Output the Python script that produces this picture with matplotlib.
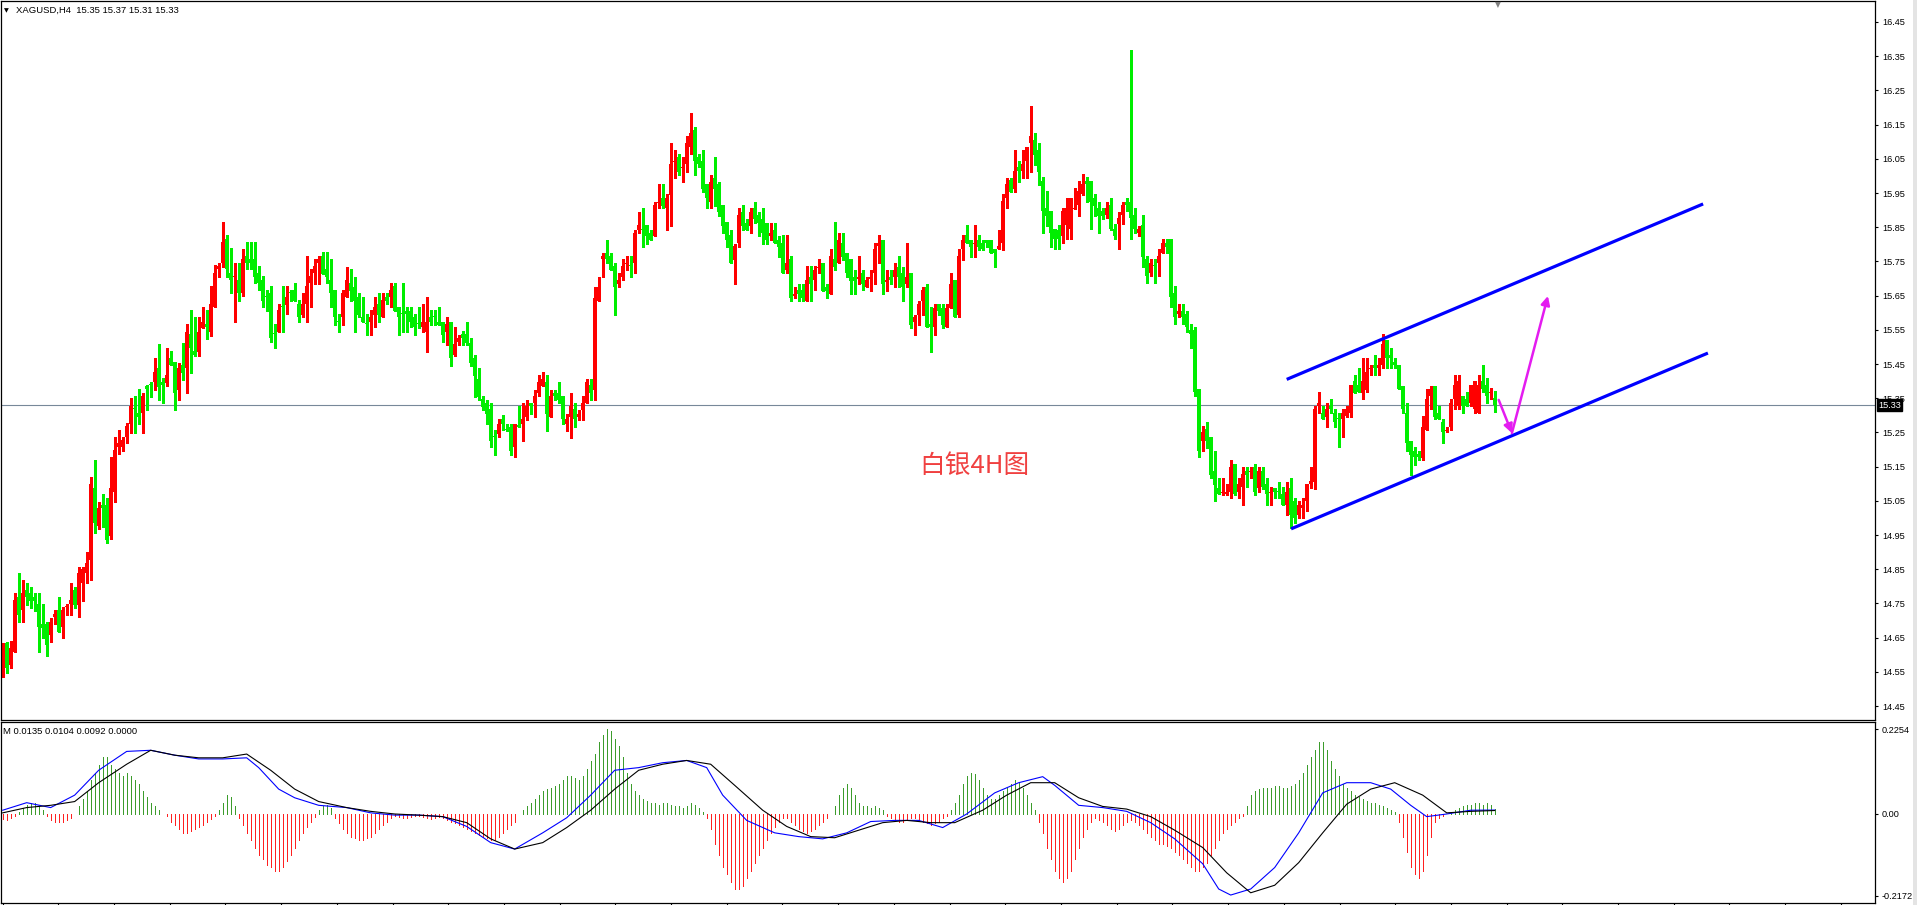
"""
XAGUSD H4 candlestick chart with a MACD sub-window (MT4 style).
"""

import numpy as np
import matplotlib
matplotlib.use("Agg")
import matplotlib.pyplot as plt
from matplotlib.patches import Rectangle
import matplotlib.transforms as mtransforms

# ---- candle data (one value per H4 bar, oldest first) ----
opens = [
    14.575, 14.633, 14.570, 14.609, 14.770, 14.731, 14.789, 14.779, 14.768, 14.748,
    14.690, 14.690, 14.658, 14.709, 14.731, 14.680, 14.740, 14.748, 14.789, 14.745,
    14.809, 14.838, 14.877, 15.086, 14.976, 15.038, 15.038, 14.947, 15.077, 15.206,
    15.206, 15.236, 15.276, 15.320, 15.306, 15.306, 15.386, 15.390, 15.398, 15.437,
    15.398, 15.395, 15.467, 15.457, 15.374, 15.447, 15.437, 15.538, 15.489, 15.486,
    15.554, 15.567, 15.545, 15.616, 15.727, 15.744, 15.815, 15.717, 15.705, 15.696,
    15.657, 15.766, 15.756, 15.756, 15.715, 15.696, 15.650, 15.657, 15.540, 15.545,
    15.620, 15.622, 15.659, 15.666, 15.625, 15.593, 15.625, 15.686, 15.715, 15.744,
    15.766, 15.727, 15.696, 15.666, 15.576, 15.586, 15.645, 15.686, 15.676, 15.647,
    15.588, 15.569, 15.574, 15.593, 15.625, 15.586, 15.647, 15.645, 15.678, 15.616,
    15.598, 15.606, 15.606, 15.586, 15.569, 15.557, 15.545, 15.586, 15.588, 15.574,
    15.574, 15.545, 15.574, 15.476, 15.515, 15.538, 15.538, 15.510, 15.467, 15.405,
    15.347, 15.337, 15.317, 15.238, 15.245, 15.288, 15.259, 15.267, 15.206, 15.272,
    15.276, 15.296, 15.336, 15.336, 15.366, 15.385, 15.398, 15.296, 15.366, 15.366,
    15.356, 15.276, 15.296, 15.317, 15.296, 15.315, 15.336, 15.388, 15.374, 15.635,
    15.756, 15.775, 15.765, 15.736, 15.685, 15.705, 15.742, 15.740, 15.744, 15.843,
    15.845, 15.856, 15.834, 15.824, 15.920, 15.934, 15.905, 15.944, 16.040, 16.054,
    16.022, 16.034, 16.085, 16.134, 16.054, 16.044, 15.976, 15.924, 15.995, 15.976,
    15.914, 15.866, 15.827, 15.754, 15.804, 15.895, 15.863, 15.853, 15.905, 15.885,
    15.875, 15.863, 15.824, 15.843, 15.814, 15.804, 15.724, 15.756, 15.650, 15.666,
    15.666, 15.635, 15.705, 15.695, 15.730, 15.744, 15.676, 15.656, 15.756, 15.744,
    15.804, 15.775, 15.756, 15.705, 15.700, 15.715, 15.676, 15.700, 15.715, 15.795,
    15.814, 15.690, 15.705, 15.705, 15.734, 15.715, 15.685, 15.715, 15.573, 15.593,
    15.635, 15.676, 15.567, 15.557, 15.625, 15.615, 15.557, 15.615, 15.695, 15.593,
    15.785, 15.827, 15.814, 15.800, 15.814, 15.804, 15.814, 15.814, 15.785, 15.785,
    15.804, 15.934, 15.988, 15.963, 16.025, 16.015, 16.044, 16.095, 16.105, 16.075,
    15.986, 15.906, 15.896, 15.844, 15.842, 15.825, 15.857, 15.844, 15.904, 15.915,
    15.947, 15.986, 15.986, 15.935, 15.906, 15.896, 15.886, 15.915, 15.844, 15.860,
    15.886, 15.925, 15.925, 15.886, 15.834, 15.857, 15.756, 15.715, 15.740, 15.745,
    15.776, 15.805, 15.815, 15.657, 15.597, 15.606, 15.597, 15.548, 15.548, 15.376,
    15.226, 15.259, 15.236, 15.136, 15.087, 15.074, 15.070, 15.077, 15.158, 15.077,
    15.090, 15.136, 15.133, 15.148, 15.087, 15.136, 15.099, 15.074, 15.087, 15.080,
    15.070, 15.038, 15.087, 15.048, 15.009, 15.028, 15.048, 15.099, 15.106, 15.328,
    15.306, 15.296, 15.328, 15.306, 15.292, 15.289, 15.298, 15.306, 15.399, 15.389,
    15.365, 15.374, 15.435, 15.447, 15.438, 15.447, 15.519, 15.477, 15.457, 15.447,
    15.386, 15.306, 15.226, 15.197, 15.187, 15.175, 15.257, 15.355, 15.386, 15.306,
    15.279, 15.254, 15.267, 15.347, 15.328, 15.357, 15.347, 15.337, 15.318, 15.306,
    15.399, 15.389, 15.365, 15.35,
]

highs = [
    14.633, 14.638, 14.640, 14.779, 14.838, 14.818, 14.809, 14.797, 14.779, 14.779,
    14.748, 14.697, 14.706, 14.731, 14.770, 14.740, 14.748, 14.809, 14.799, 14.857,
    14.857, 14.901, 15.121, 15.169, 15.047, 15.070, 15.057, 15.179, 15.237, 15.257,
    15.237, 15.278, 15.350, 15.356, 15.376, 15.364, 15.389, 15.398, 15.467, 15.508,
    15.408, 15.496, 15.489, 15.457, 15.454, 15.510, 15.567, 15.608, 15.588, 15.586,
    15.618, 15.608, 15.678, 15.739, 15.744, 15.866, 15.827, 15.788, 15.744, 15.744,
    15.785, 15.808, 15.808, 15.808, 15.737, 15.707, 15.666, 15.678, 15.567, 15.625,
    15.678, 15.678, 15.666, 15.686, 15.637, 15.657, 15.766, 15.727, 15.756, 15.766,
    15.778, 15.778, 15.756, 15.666, 15.596, 15.666, 15.735, 15.727, 15.705, 15.657,
    15.645, 15.596, 15.608, 15.645, 15.657, 15.657, 15.657, 15.686, 15.686, 15.616,
    15.686, 15.616, 15.618, 15.596, 15.616, 15.625, 15.645, 15.608, 15.608, 15.616,
    15.574, 15.586, 15.574, 15.557, 15.535, 15.547, 15.574, 15.525, 15.476, 15.437,
    15.356, 15.345, 15.337, 15.257, 15.288, 15.301, 15.276, 15.276, 15.276, 15.327,
    15.336, 15.346, 15.336, 15.375, 15.417, 15.426, 15.417, 15.375, 15.375, 15.398,
    15.356, 15.305, 15.366, 15.336, 15.315, 15.356, 15.405, 15.405, 15.676, 15.705,
    15.775, 15.814, 15.775, 15.744, 15.715, 15.756, 15.765, 15.765, 15.843, 15.895,
    15.905, 15.856, 15.843, 15.924, 15.976, 15.976, 15.947, 16.095, 16.075, 16.064,
    16.054, 16.116, 16.183, 16.144, 16.064, 16.075, 15.976, 16.002, 16.054, 15.983,
    15.914, 15.866, 15.843, 15.802, 15.905, 15.914, 15.875, 15.905, 15.924, 15.895,
    15.905, 15.863, 15.863, 15.863, 15.824, 15.827, 15.827, 15.765, 15.676, 15.685,
    15.685, 15.736, 15.736, 15.736, 15.756, 15.744, 15.685, 15.785, 15.866, 15.834,
    15.834, 15.775, 15.756, 15.724, 15.765, 15.724, 15.705, 15.726, 15.804, 15.827,
    15.814, 15.726, 15.726, 15.744, 15.765, 15.734, 15.804, 15.715, 15.593, 15.635,
    15.676, 15.685, 15.617, 15.625, 15.625, 15.625, 15.625, 15.715, 15.695, 15.785,
    15.827, 15.856, 15.814, 15.856, 15.827, 15.814, 15.814, 15.814, 15.785, 15.843,
    15.947, 15.995, 15.995, 16.075, 16.044, 16.075, 16.085, 16.204, 16.124, 16.095,
    15.998, 15.957, 15.896, 15.844, 15.857, 15.906, 15.935, 15.935, 15.964, 15.986,
    16.006, 15.998, 15.986, 15.947, 15.925, 15.906, 15.925, 15.935, 15.860, 15.893,
    15.925, 15.935, 16.367, 15.906, 15.854, 15.886, 15.766, 15.756, 15.756, 15.786,
    15.815, 15.815, 15.815, 15.678, 15.626, 15.626, 15.606, 15.567, 15.558, 15.376,
    15.269, 15.279, 15.236, 15.197, 15.116, 15.116, 15.099, 15.170, 15.158, 15.116,
    15.148, 15.148, 15.148, 15.158, 15.148, 15.148, 15.116, 15.090, 15.087, 15.106,
    15.090, 15.106, 15.116, 15.058, 15.048, 15.058, 15.099, 15.148, 15.328, 15.367,
    15.328, 15.337, 15.347, 15.318, 15.308, 15.318, 15.328, 15.389, 15.418, 15.438,
    15.467, 15.467, 15.447, 15.477, 15.467, 15.538, 15.519, 15.496, 15.467, 15.447,
    15.386, 15.337, 15.226, 15.207, 15.197, 15.298, 15.376, 15.386, 15.386, 15.328,
    15.289, 15.267, 15.347, 15.418, 15.418, 15.357, 15.369, 15.389, 15.399, 15.418,
    15.447, 15.408, 15.379, 15.37,
]

lows = [
    14.536, 14.547, 14.560, 14.609, 14.697, 14.697, 14.745, 14.736, 14.729, 14.609,
    14.648, 14.596, 14.638, 14.690, 14.667, 14.648, 14.716, 14.716, 14.736, 14.709,
    14.758, 14.809, 14.818, 14.957, 14.967, 14.974, 14.928, 14.937, 15.047, 15.187,
    15.197, 15.218, 15.247, 15.247, 15.276, 15.247, 15.315, 15.354, 15.374, 15.345,
    15.337, 15.386, 15.447, 15.315, 15.345, 15.403, 15.366, 15.425, 15.473, 15.473,
    15.554, 15.522, 15.532, 15.616, 15.705, 15.735, 15.705, 15.657, 15.574, 15.635,
    15.650, 15.727, 15.727, 15.686, 15.666, 15.616, 15.606, 15.515, 15.496, 15.545,
    15.545, 15.596, 15.635, 15.635, 15.574, 15.586, 15.574, 15.616, 15.684, 15.684,
    15.713, 15.686, 15.616, 15.564, 15.545, 15.564, 15.645, 15.635, 15.545, 15.586,
    15.574, 15.535, 15.535, 15.557, 15.574, 15.586, 15.625, 15.616, 15.606, 15.535,
    15.545, 15.545, 15.559, 15.535, 15.554, 15.545, 15.486, 15.564, 15.564, 15.564,
    15.515, 15.506, 15.444, 15.473, 15.506, 15.506, 15.506, 15.444, 15.354, 15.345,
    15.315, 15.276, 15.208, 15.184, 15.236, 15.257, 15.255, 15.184, 15.177, 15.265,
    15.225, 15.286, 15.305, 15.296, 15.356, 15.385, 15.255, 15.296, 15.346, 15.336,
    15.276, 15.255, 15.235, 15.266, 15.286, 15.286, 15.336, 15.346, 15.346, 15.635,
    15.705, 15.744, 15.726, 15.593, 15.676, 15.695, 15.726, 15.705, 15.715, 15.834,
    15.793, 15.802, 15.814, 15.824, 15.905, 15.905, 15.843, 15.853, 15.995, 16.002,
    15.983, 16.012, 16.064, 16.002, 16.025, 15.953, 15.905, 15.905, 15.912, 15.882,
    15.834, 15.793, 15.744, 15.685, 15.793, 15.843, 15.843, 15.834, 15.863, 15.824,
    15.802, 15.802, 15.814, 15.804, 15.763, 15.715, 15.715, 15.635, 15.642, 15.635,
    15.635, 15.635, 15.635, 15.666, 15.715, 15.664, 15.644, 15.656, 15.726, 15.744,
    15.754, 15.705, 15.656, 15.656, 15.685, 15.666, 15.676, 15.664, 15.685, 15.744,
    15.656, 15.664, 15.685, 15.676, 15.676, 15.635, 15.676, 15.554, 15.534, 15.564,
    15.593, 15.557, 15.486, 15.534, 15.593, 15.554, 15.557, 15.615, 15.586, 15.586,
    15.754, 15.804, 15.763, 15.763, 15.783, 15.783, 15.793, 15.775, 15.734, 15.785,
    15.783, 15.905, 15.953, 15.953, 15.983, 15.995, 15.995, 16.012, 16.031, 15.973,
    15.834, 15.854, 15.793, 15.786, 15.786, 15.805, 15.815, 15.815, 15.904, 15.883,
    15.945, 15.925, 15.844, 15.883, 15.834, 15.873, 15.876, 15.842, 15.815, 15.786,
    15.860, 15.896, 15.815, 15.834, 15.825, 15.735, 15.686, 15.706, 15.686, 15.706,
    15.776, 15.776, 15.616, 15.567, 15.587, 15.567, 15.545, 15.496, 15.357, 15.177,
    15.197, 15.204, 15.116, 15.048, 15.070, 15.067, 15.067, 15.058, 15.067, 15.058,
    15.038, 15.090, 15.116, 15.067, 15.077, 15.084, 15.038, 15.038, 15.058, 15.058,
    15.038, 15.009, 14.970, 14.986, 14.999, 14.999, 15.019, 15.087, 15.084, 15.306,
    15.289, 15.267, 15.306, 15.267, 15.207, 15.236, 15.296, 15.296, 15.365, 15.367,
    15.347, 15.367, 15.418, 15.418, 15.418, 15.438, 15.438, 15.438, 15.438, 15.376,
    15.306, 15.197, 15.126, 15.155, 15.168, 15.168, 15.257, 15.318, 15.289, 15.289,
    15.220, 15.250, 15.257, 15.318, 15.318, 15.306, 15.328, 15.328, 15.308, 15.306,
    15.369, 15.337, 15.347, 15.31,
]

closes = [
    14.619, 14.560, 14.619, 14.760, 14.716, 14.779, 14.768, 14.758, 14.758, 14.680,
    14.677, 14.628, 14.697, 14.719, 14.667, 14.731, 14.741, 14.760, 14.745, 14.838,
    14.852, 14.867, 15.099, 14.986, 15.028, 15.028, 14.935, 15.086, 15.198, 15.218,
    15.228, 15.269, 15.327, 15.317, 15.296, 15.356, 15.376, 15.389, 15.428, 15.384,
    15.389, 15.418, 15.447, 15.366, 15.437, 15.425, 15.545, 15.496, 15.476, 15.545,
    15.574, 15.557, 15.625, 15.715, 15.737, 15.808, 15.727, 15.696, 15.707, 15.657,
    15.756, 15.744, 15.744, 15.705, 15.686, 15.635, 15.647, 15.525, 15.538, 15.608,
    15.618, 15.645, 15.657, 15.635, 15.586, 15.625, 15.678, 15.707, 15.737, 15.756,
    15.713, 15.705, 15.657, 15.586, 15.574, 15.657, 15.696, 15.664, 15.635, 15.593,
    15.574, 15.567, 15.588, 15.616, 15.593, 15.637, 15.635, 15.666, 15.606, 15.586,
    15.596, 15.596, 15.574, 15.557, 15.567, 15.574, 15.574, 15.574, 15.586, 15.564,
    15.535, 15.567, 15.467, 15.508, 15.525, 15.525, 15.512, 15.454, 15.415, 15.354,
    15.325, 15.304, 15.226, 15.236, 15.276, 15.276, 15.257, 15.197, 15.276, 15.267,
    15.288, 15.327, 15.327, 15.356, 15.398, 15.405, 15.305, 15.356, 15.356, 15.346,
    15.288, 15.288, 15.327, 15.288, 15.305, 15.336, 15.398, 15.366, 15.644, 15.676,
    15.765, 15.756, 15.726, 15.676, 15.695, 15.736, 15.744, 15.736, 15.834, 15.856,
    15.843, 15.824, 15.814, 15.914, 15.924, 15.912, 15.934, 16.034, 16.044, 16.012,
    16.025, 16.095, 16.124, 16.044, 16.034, 15.963, 15.934, 15.983, 15.963, 15.895,
    15.853, 15.814, 15.744, 15.795, 15.885, 15.853, 15.843, 15.895, 15.875, 15.863,
    15.834, 15.814, 15.834, 15.804, 15.793, 15.715, 15.744, 15.642, 15.656, 15.656,
    15.644, 15.695, 15.685, 15.726, 15.734, 15.664, 15.664, 15.765, 15.734, 15.814,
    15.763, 15.715, 15.693, 15.693, 15.705, 15.685, 15.695, 15.705, 15.785, 15.804,
    15.685, 15.695, 15.695, 15.726, 15.705, 15.676, 15.705, 15.564, 15.588, 15.625,
    15.666, 15.557, 15.557, 15.615, 15.606, 15.564, 15.615, 15.685, 15.586, 15.765,
    15.814, 15.804, 15.793, 15.804, 15.793, 15.785, 15.804, 15.775, 15.775, 15.795,
    15.927, 15.976, 15.953, 16.015, 16.015, 16.034, 16.085, 16.116, 16.061, 16.012,
    15.896, 15.883, 15.834, 15.815, 15.815, 15.896, 15.906, 15.935, 15.906, 15.957,
    15.977, 15.977, 15.925, 15.912, 15.883, 15.883, 15.906, 15.844, 15.825, 15.876,
    15.915, 15.915, 15.876, 15.844, 15.844, 15.764, 15.706, 15.745, 15.737, 15.766,
    15.805, 15.793, 15.645, 15.587, 15.606, 15.587, 15.558, 15.538, 15.367, 15.197,
    15.250, 15.226, 15.126, 15.097, 15.070, 15.077, 15.077, 15.148, 15.070, 15.099,
    15.129, 15.126, 15.136, 15.077, 15.136, 15.090, 15.070, 15.077, 15.077, 15.077,
    15.038, 15.077, 15.009, 14.999, 15.038, 15.038, 15.099, 15.109, 15.318, 15.337,
    15.289, 15.318, 15.318, 15.279, 15.289, 15.306, 15.318, 15.389, 15.365, 15.369,
    15.399, 15.428, 15.438, 15.438, 15.447, 15.509, 15.467, 15.467, 15.447, 15.376,
    15.318, 15.218, 15.184, 15.177, 15.177, 15.267, 15.347, 15.376, 15.296, 15.289,
    15.250, 15.257, 15.337, 15.389, 15.399, 15.328, 15.328, 15.389, 15.399, 15.389,
    15.376, 15.357, 15.366, 15.33,
]

last_price = 15.33
price_ticks = [14.45, 14.55, 14.65, 14.75, 14.85, 14.95, 15.05, 15.15, 15.25,
               15.35, 15.45, 15.55, 15.65, 15.75, 15.85, 15.95, 16.05, 16.15,
               16.25, 16.35, 16.45]

# ---- MACD window ----
macd_hist = [
    -0.012, -0.015, -0.01, -0.005, 0.005,
    0.015, 0.025, 0.03, 0.028, 0.02, 0.01,
    -0.005, -0.015, -0.02, -0.022, -0.02, -0.015, -0.01, 0.0,
    0.02, 0.04, 0.06, 0.09, 0.11, 0.13, 0.15, 0.15, 0.13, 0.12, 0.11, 0.1, 0.11,
    0.1, 0.09, 0.08, 0.06, 0.045, 0.03, 0.02, 0.01,
    0.0, -0.005, -0.02, -0.03, -0.04, -0.05, -0.05, -0.045, -0.04, -0.035, -0.03,
    -0.02, -0.012, -0.005,
    0.01, 0.03, 0.05, 0.045, 0.02,
    -0.01, -0.03, -0.05, -0.07, -0.09, -0.11, -0.12, -0.135, -0.14, -0.15,
    -0.15, -0.14, -0.125, -0.11, -0.09, -0.07, -0.05, -0.035, -0.02, -0.008,
    0.01, 0.02, 0.025, 0.015,
    -0.01, -0.025, -0.04, -0.05, -0.06, -0.065, -0.07, -0.07, -0.065, -0.06,
    -0.05, -0.04, -0.03, -0.02, -0.01,
    -0.005, -0.008, -0.01, -0.01, -0.008, -0.005, -0.005, -0.008, -0.01, -0.012,
    -0.01, -0.008, -0.01, -0.015, -0.02, -0.025, -0.03, -0.035, -0.04, -0.045,
    -0.05, -0.055, -0.06, -0.065, -0.07, -0.068, -0.06, -0.05, -0.04, -0.03,
    -0.02,
    0.0, 0.01, 0.02, 0.03, 0.04, 0.05, 0.06, 0.065, 0.07, 0.075, 0.08, 0.09,
    0.1, 0.1, 0.095, 0.09, 0.1, 0.12,
    0.14, 0.16, 0.19, 0.21, 0.2254, 0.22, 0.2, 0.18, 0.15, 0.11, 0.08,
    0.06, 0.05, 0.04, 0.035, 0.03, 0.03, 0.025, 0.03, 0.03, 0.025, 0.02, 0.02,
    0.015, 0.02, 0.03, 0.025, 0.015, 0.005,
    -0.01, -0.04, -0.08, -0.11, -0.14, -0.16, -0.18, -0.2, -0.2, -0.19,
    -0.17, -0.15, -0.13, -0.11, -0.09, -0.07, -0.05, -0.035, -0.02, -0.01,
    -0.01, -0.02, -0.03, -0.04, -0.045, -0.05, -0.045, -0.04, -0.03, -0.02,
    -0.01, 0.0,
    0.02, 0.05, 0.07, 0.08, 0.07, 0.05, 0.03,
    0.02, 0.02, 0.015, 0.02, 0.015, 0.01,
    -0.005, -0.01, -0.015, -0.02, -0.02, -0.015, -0.01, -0.01, -0.015, -0.02,
    -0.025, -0.03, -0.025, -0.02, -0.01, -0.005,
    0.01, 0.03, 0.05, 0.08, 0.1, 0.11, 0.105, 0.09, 0.07, 0.05, 0.04,
    0.04, 0.05, 0.06, 0.07, 0.08, 0.09, 0.085, 0.07, 0.05, 0.03, 0.01,
    -0.02, -0.05, -0.09, -0.12, -0.15, -0.17, -0.18, -0.17, -0.15, -0.12,
    -0.09, -0.06, -0.04, -0.02,
    -0.01, -0.015, -0.02, -0.03, -0.04, -0.045, -0.04, -0.03, -0.02, -0.015,
    -0.02, -0.03, -0.04,
    -0.05, -0.06, -0.07, -0.08, -0.08, -0.085, -0.09, -0.1, -0.11, -0.12,
    -0.13, -0.14, -0.15, -0.15, -0.14, -0.13, -0.11, -0.09, -0.07, -0.05,
    -0.04, -0.03, -0.02, -0.01, -0.005,
    0.02, 0.05, 0.06, 0.065, 0.07, 0.07, 0.07, 0.075, 0.075, 0.07, 0.07, 0.075,
    0.08, 0.09, 0.11, 0.13, 0.15, 0.17, 0.19, 0.19, 0.17, 0.14, 0.12, 0.1,
    0.08, 0.07, 0.06, 0.05, 0.045,
    0.04, 0.035, 0.03, 0.03, 0.025, 0.02, 0.015, 0.01, 0.005,
    -0.02, -0.06, -0.1, -0.14, -0.16, -0.17, -0.15, -0.11, -0.06, -0.02,
    -0.01, -0.005, 0.0, 0.005, 0.01, 0.015, 0.02, 0.025, 0.025, 0.03, 0.03,
    0.025, 0.03, 0.025, 0.0135,
]

# blue main line, read at these bar positions
main_idx = [0, 6, 12, 18, 24, 31, 37, 43, 49, 55, 61, 64, 69, 73, 79, 86, 92,
            98, 104, 110, 116, 122, 128, 135, 141, 147, 153, 159, 165, 171,
            176, 180, 186, 193, 199, 205, 211, 217, 223, 229, 235, 241, 248,
            254, 260, 263, 269, 275, 281, 287, 293, 300, 304, 307, 312, 318,
            324, 330, 336, 342, 347, 352, 356, 361, 367, 373]
main_vals = [0.01, 0.03, 0.017, 0.05, 0.116, 0.166, 0.169, 0.156, 0.146, 0.146,
             0.149, 0.123, 0.066, 0.043, 0.023, 0.017, 0.003, -0.003, -0.003,
             -0.007, -0.033, -0.076, -0.093, -0.05, -0.01, 0.05, 0.116, 0.123,
             0.136, 0.142, 0.123, 0.05, -0.017, -0.05, -0.06, -0.066, -0.05,
             -0.02, -0.017, -0.017, -0.036, 0.0, 0.056, 0.083, 0.099, 0.076,
             0.023, 0.017, 0.007, -0.023, -0.066, -0.132, -0.199, -0.215,
             -0.199, -0.142, -0.05, 0.056, 0.083, 0.083, 0.066, 0.023, -0.007,
             0.0, 0.01, 0.0104]

# black signal line
signal_idx = [0, 6, 12, 18, 24, 31, 37, 43, 49, 55, 61, 67, 73, 79, 86, 92, 98,
              104, 110, 116, 122, 128, 135, 141, 147, 153, 159, 165, 171, 177,
              183, 190, 196, 202, 208, 214, 220, 226, 232, 238, 245, 251, 257,
              263, 269, 275, 281, 287, 293, 300, 306, 312, 318, 324, 330, 336,
              342, 348, 355, 361, 367, 373]
signal_vals = [0.003, 0.017, 0.023, 0.033, 0.083, 0.132, 0.169, 0.156, 0.149,
               0.149, 0.159, 0.116, 0.066, 0.033, 0.017, 0.007, 0.0, -0.003,
               -0.007, -0.023, -0.066, -0.093, -0.076, -0.036, 0.01, 0.066,
               0.116, 0.132, 0.142, 0.132, 0.076, 0.01, -0.033, -0.06, -0.063,
               -0.043, -0.023, -0.017, -0.023, -0.023, 0.01, 0.05, 0.083, 0.083,
               0.043, 0.02, 0.013, -0.007, -0.043, -0.089, -0.156, -0.209,
               -0.189, -0.129, -0.05, 0.026, 0.066, 0.083, 0.05, 0.003, 0.007,
               0.0092]
macd_ticks = [0.2254, 0.0, -0.2172]
macd_tick_labels = ["0.2254", "0.00", "-0.2172"]

# ---- hand drawn objects: channel and arrows (bar index, price) ----
upper_x = [321.0, 425.1]
upper_y = [15.405, 15.918]
lower_x = [322.1, 426.3]
lower_y = [14.968, 15.482]
arrow_down = [(374.0, 15.345), (377.3, 15.248)]
arrow_up = [(377.3, 15.248), (386.3, 15.649)]

W, H = 1917, 905
UP = "#ff0000"
DOWN = "#00ee00"
NUM_FONT = "Liberation Sans"


def px_rect(x0, y0, x1, y1):
    """Figure rectangle from pixel edges (top-left origin)."""
    return [x0 / W, 1 - y1 / H, (x1 - x0) / W, (y1 - y0) / H]


def style_axes(ax):
    for sp in ax.spines.values():
        sp.set_color("black")
        sp.set_linewidth(0.9)
    ax.set_facecolor("white")


def draw_candles(ax):
    o = np.array(opens)
    h = np.array(highs)
    lo = np.array(lows)
    c = np.array(closes)
    x = np.arange(len(c))
    colors = np.where(c >= o, UP, DOWN)
    ax.vlines(x, lo, h, colors=colors, linewidth=0.75, antialiased=False)
    body = np.maximum(np.abs(c - o), 0.003)
    ax.bar(x, body, bottom=np.minimum(o, c), width=0.75, color=colors,
           linewidth=0, antialiased=False)


def draw_main(fig):
    ax = fig.add_axes(px_rect(1, 1, 1875, 720))
    style_axes(ax)
    ax.set_xlim(-0.42, 468.07)
    ax.set_ylim(14.4091, 16.5114)

    ax.axhline(last_price, color="#778899", linewidth=0.8, zorder=1)
    draw_candles(ax)

    ax.plot(upper_x, upper_y, color="#0000ff", linewidth=2.3,
            solid_capstyle="butt")
    ax.plot(lower_x, lower_y, color="#0000ff", linewidth=2.3,
            solid_capstyle="butt")
    for seg in (arrow_down, arrow_up):
        ax.annotate("", xy=seg[1], xytext=seg[0],
                    arrowprops=dict(arrowstyle="-|>", color="#e41cf0",
                                    linewidth=1.8, mutation_scale=13,
                                    shrinkA=0, shrinkB=0))

    ax.text(243, 15.152, "白银4H图", color="#f04040", fontsize=18.5,
            family=["Noto Sans CJK SC", "DejaVu Sans"],
            ha="center", va="center")

    ax.set_xticks([])
    ax.yaxis.tick_right()
    ax.set_yticks(price_ticks)
    ax.set_yticklabels([f"{t:.2f}" for t in price_ticks],
                       fontsize=6.6, family=NUM_FONT)
    ax.tick_params(axis="y", direction="out", length=2.5, width=0.8, pad=2.5)

    # current price label box
    trans = mtransforms.blended_transform_factory(ax.transAxes, ax.transData)
    ax.text(1.0018, last_price, "15.33", transform=trans, color="white",
            fontsize=6.6, family=NUM_FONT, va="center", ha="left",
            bbox=dict(boxstyle="square,pad=0.12", facecolor="black",
                      edgecolor="black"), zorder=10, clip_on=False)
    return ax


def draw_macd(fig):
    mx = fig.add_axes(px_rect(1, 722, 1875, 903))
    style_axes(mx)
    mx.set_xlim(-0.42, 468.07)
    mx.set_ylim(-0.2361, 0.2440)

    hist = np.array(macd_hist)
    x = np.arange(len(hist))
    colors = np.where(hist >= 0, "#3c9c2c", "#ff2020")
    mx.vlines(x, 0, hist, colors=colors, linewidth=0.6, antialiased=False)
    mx.plot(main_idx, main_vals, color="#0000ff", linewidth=0.8)
    mx.plot(signal_idx, signal_vals, color="black", linewidth=0.8)

    mx.yaxis.tick_right()
    mx.set_yticks(macd_ticks)
    mx.set_yticklabels(macd_tick_labels, fontsize=6.6, family=NUM_FONT)
    mx.tick_params(axis="y", direction="out", length=2.5, width=0.8, pad=2.5)
    mx.set_xticks(np.arange(0, 468, 13.925))
    mx.set_xticklabels([])
    mx.tick_params(axis="x", direction="out", length=2, width=0.8)
    return mx


def main():
    fig = plt.figure(figsize=(W / 100, H / 100), dpi=100)
    fig.patch.set_facecolor("white")

    draw_main(fig)
    draw_macd(fig)

    # window decorations
    fig.patches.append(Rectangle((1913 / W, 0), 4 / W, 1,
                                 transform=fig.transFigure,
                                 facecolor="#e4e4e4", edgecolor="none"))
    fig.text(4 / W, 1 - 10.5 / H, "▼", fontsize=4.5, va="center",
             family="DejaVu Sans")
    fig.text(16.5 / W, 1 - 10.5 / H, "XAGUSD,H4  15.35 15.37 15.31 15.33",
             fontsize=6.8, va="center", family=NUM_FONT)
    fig.text(2.5 / W, 1 - 731 / H, "M 0.0135 0.0104 0.0092 0.0000",
             fontsize=6.8, va="center", family=NUM_FONT)
    fig.text(1498 / W, 1 - 4.5 / H, "▼", fontsize=5.5, color="#808080",
             ha="center", va="center", family="DejaVu Sans")

    fig.savefig("out.png", dpi=100)


if __name__ == "__main__":
    main()
